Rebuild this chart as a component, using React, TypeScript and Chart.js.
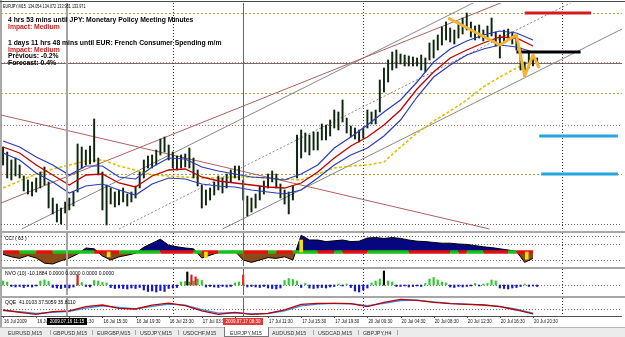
import React, { useEffect, useRef } from 'react';
import { Chart, registerables } from 'chart.js';

Chart.register(...registerables);

// ================= DATA =================
const chartTitle = 'EURJPY,M15  134.054 134.072 133.951 133.971';
const newsText = [
  '4 hrs 53 mins until JPY: Monetary Policy Meeting Minutes',
  'Impact: Medium',
  '1 days 11 hrs 48 mins until EUR: French Consumer Spending m/m',
  'Impact: Medium',
  'Previous: -0.2%',
  'Forecast: 0.4%',
];
const newsKind = ['event', 'impact', 'event', 'impact', 'info', 'info'];

// candles: one entry every candleStep bars (bar 0 = 16 Jul 03:30, M15)
const candleStep = 2;
const candleHigh = [
  133.13, 133.08, 133.0, 133.02, 132.95, 132.84, 132.8, 132.78, 132.82, 132.88,
  132.93, 132.78, 132.62, 132.56, 132.52, 132.58, 132.62, 132.68, 133.16, 133.13,
  133.1, 133.14, 133.41, 133.02, 132.88, 132.75, 132.72, 132.68, 132.7, 132.72,
  132.66, 132.68, 132.74, 132.88, 133.0, 133.04, 133.05, 133.1, 133.21, 133.23,
  133.15, 133.08, 133.04, 133.05, 133.06, 133.12, 133.02, 132.9, 132.75, 132.7,
  132.72, 132.78, 132.84, 132.82, 132.86, 132.9, 132.94, 132.94, 132.8, 132.64,
  132.62, 132.66, 132.74, 132.79, 132.86, 132.89, 132.86, 132.76, 132.7, 132.68,
  132.74, 133.25, 133.3, 133.27, 133.25, 133.28, 133.28, 133.36, 133.35, 133.4,
  133.5, 133.48, 133.6, 133.42, 133.34, 133.32, 133.3, 133.32, 133.5, 133.48,
  133.5, 133.8, 133.92, 134.0, 134.08, 134.1, 134.06, 134.05, 134.04, 134.03,
  134.02, 134.05, 134.02, 134.17, 134.2, 134.25, 134.33, 134.38, 134.32, 134.3,
  134.38, 134.42, 134.47, 134.38, 134.34, 134.35, 134.3, 134.34, 134.42, 134.28,
  134.25, 134.3, 134.31, 134.28, 134.24, 134.12, 133.98, 134.07, 134.06, 134.02,
];
const candleLow = [
  132.95, 132.82, 132.8, 132.84, 132.82, 132.69, 132.66, 132.64, 132.68, 132.72,
  132.75, 132.52, 132.46, 132.38, 132.36, 132.47, 132.5, 132.54, 132.68, 132.92,
  132.95, 132.96, 132.98, 132.85, 132.5, 132.35, 132.56, 132.53, 132.55, 132.58,
  132.54, 132.58, 132.62, 132.72, 132.82, 132.92, 132.92, 132.95, 133.05, 133.08,
  133.0, 132.92, 132.9, 132.92, 132.93, 132.92, 132.82, 132.74, 132.52, 132.55,
  132.6, 132.65, 132.7, 132.67, 132.72, 132.78, 132.82, 132.8, 132.6, 132.44,
  132.48, 132.52, 132.6, 132.66, 132.72, 132.78, 132.72, 132.62, 132.56, 132.46,
  132.6, 132.82, 133.02, 133.08, 133.05, 133.1, 133.1, 133.2, 133.2, 133.24,
  133.32, 133.3, 133.38, 133.27, 133.23, 133.21, 133.18, 133.22, 133.32, 133.36,
  133.36, 133.48, 133.68, 133.78, 133.9, 133.92, 133.96, 133.94, 133.94, 133.94,
  133.94, 133.9, 133.88, 134.0, 134.02, 134.1, 134.15, 134.2, 134.18, 134.16,
  134.22, 134.26, 134.3, 134.23, 134.2, 134.22, 134.19, 134.22, 134.24, 134.14,
  134.02, 134.18, 134.22, 134.16, 134.1, 133.9, 133.84, 133.92, 133.94, 133.96,
];

// moving averages, one value every maStep bars
const maStep = 8;
const maUpperBand = [
  133.19, 133.13, 133.03, 132.95, 132.85, 132.94, 132.94, 132.83, 132.81, 132.93, 133.02,
  133.01, 132.93, 132.89, 132.86, 132.83, 132.82, 132.8, 132.86, 132.95, 133.12, 133.23,
  133.35, 133.48, 133.6, 133.78, 133.98, 134.11, 134.19, 134.25, 134.29, 134.27, 134.2,
];
const maCenter = [
  133.13, 133.07, 132.95, 132.85, 132.75, 132.85, 132.86, 132.77, 132.73, 132.84, 132.9,
  132.91, 132.83, 132.79, 132.77, 132.75, 132.73, 132.72, 132.77, 132.88, 133.02, 133.14,
  133.23, 133.35, 133.5, 133.71, 133.88, 134.02, 134.1, 134.17, 134.23, 134.22, 134.14,
];
const maLowerBand = [
  133.07, 133.0, 132.87, 132.78, 132.67, 132.74, 132.76, 132.7, 132.65, 132.76, 132.82,
  132.81, 132.76, 132.74, 132.73, 132.7, 132.68, 132.66, 132.7, 132.82, 132.95, 133.05,
  133.12, 133.24, 133.4, 133.63, 133.83, 133.95, 134.05, 134.11, 134.15, 134.13, 134.08,
];
const maSlow = [
  132.72, 132.79, 132.86, 132.91, 132.95, 132.99, 133.0, 132.94, 132.9, 132.85, 132.84,
  132.83, 132.82, 132.82, 132.83, 132.83, 132.82, 132.81, 132.8, 132.86, 132.92, 132.94,
  132.95, 132.98, 133.13, 133.27, 133.39, 133.49, 133.6, 133.73, 133.83, 133.92, 133.99,
];

const zigzagBars = [215, 240, 248, 252, 256, 259];
const zigzagPrices = [134.42, 134.15, 134.25, 133.84, 134.05, 133.92];

const trendDownBars = [-1, 235];
const trendDownPrices = [133.45, 132.31];
const trendUpRedBars = [-1, 250];
const trendUpRedPrices = [132.57, 134.65];
const channelUpperBars = [9, 228];
const channelUpperPrices = [132.31, 134.58];
const channelLowerBars = [106, 300];
const channelLowerPrices = [132.31, 134.32];
const channelMidBars = [56, 277];
const channelMidPrices = [132.31, 134.6];

const levelRedBars = [252, 284];
const levelRedPrice = 134.47;
const levelBlackBars = [248, 279];
const levelBlackPrice = 134.08;
const levelCyanStartBars = [259, 260];
const levelCyanEndBars = [297, 297];
const levelCyanPrices = [133.24, 132.86];

const priceGridOlive = [134.47, 133.67, 132.86];
const priceGridRose = [133.35];
const priceGridGray = [132.36];
const bidPrice = 133.97;
const mainPriceMin = 132.3;
const mainPriceMax = 134.57;

const dayStartBars = [82, 174, 270];
const crosshairBar = 31;
const markerBar = 116;

const cciLabel = 'CCI ( 63 )';
const cciStep = 4;
const cciValues = [
  -30, -60, -80, -45, -75, -140, -150, -110, -75, -25, 50, 40, -50, -100, -60, -40, -15,
  60, 110, 160, 85, 65, 50, 40, -75, -40, -5, 5, 10, -100, -130, -100, -70, -80, -60,
  -100, 210, 150, 150, 130, 140, 150, 130, 135, 175, 180, 170, 180, 170, 150, 135, 130,
  120, 110, 110, 100, 95, 80, 65, 55, 40, 25, 10, -130, -80,
];
const cciState = [
  'R', 'R', 'G', 'G', 'R', 'R', 'G', 'G', 'G', 'G', 'G', 'R', 'R', 'R', 'G', 'G', 'G',
  'G', 'G', 'R', 'R', 'R', 'R', 'G', 'R', 'R', 'G', 'G', 'G', 'R', 'R', 'R', 'G', 'R',
  'R', 'G', 'G', 'G', 'R', 'R', 'G', 'R', 'R', 'R', 'G', 'G', 'G', 'G', 'G', 'R', 'R',
  'R', 'R', 'R', 'G', 'R', 'G', 'G', 'R', 'R', 'R', 'G', 'R', 'R', 'G',
];
const cciLevels = [200, 100, -100];
const cciSignalBars = [51, 98, 144, 253];
const cciSignalValues = [-60, -70, 150, -90];
const cciMin = -175;
const cciMax = 237.5;

const nvoLabel = 'NVO (10) -10.1884 0.0000 0.0000 0.0000 0.0000';
const nvoStep = 2;
const nvoValues = [
  8, 6, -3, -4, -3, -5, -3, -4, -2, 8, 10, 7, -5, -6, -7, -5, -6, -4, 4, 5,
  -3, -4, 9, 8, 5, 4, -5, -7, -6, -7, -8, -6, -7, -5, -10, -13, -12, -14, -11, -13,
  -7, -6, -5, 6, 7, 6, 8, 12, 9, -4, -3, -4, -5, -3, -4, -3, 4, 6, 3, -4,
  -3, -4, -5, -3, -6, -7, -8, -6, 9, 13, 11, 8, -5, 3, -6, -7, -6, -5, -6, -4,
  -3, 2, -2, 2, -5, -12, -14, -10, -6, 4, 8, 12, 10, 8, 6, -3, -3, -2, -4, -3,
  -2, -3, 3, 12, 15, 10, 6, 4, -4, -5, -3, -4, -3, -2, 3, -2, 2, 3, 10, 8,
  -6, -7, -8, -6, -5, -3, 2, -3, -2, -3,
];
const nvoSpikeBars = [36, 89, 91, 93, 116, 184];
const nvoSpikeValues = [20, 26, 20, 16, 20, 28];
const nvoSpikeKind = ['up', 'strong', 'up', 'up', 'up', 'strong'];
const nvoMin = -20;
const nvoMax = 32;

const qqeLabel = 'QQE  41.0103 37.5059 35.8110';
const qqeStep = 8;
const qqeFast = [
  46.7, 40.3, 34.7, 42.0, 44.0, 56.0, 60.5, 51.4, 49.5, 60.5, 66.0, 58.6, 44.0, 34.7, 40.3,
  34.7, 37.5, 46.7, 62.5, 65.3, 65.3, 64.2, 56.0, 68.0, 76.4, 73.6, 68.0, 64.2, 62.5, 60.5,
  56.0, 46.7, 36.0,
];
const qqeSlow = [
  45.0, 42.0, 37.0, 40.0, 43.0, 52.0, 58.0, 54.0, 50.0, 57.0, 63.0, 60.0, 48.0, 38.0, 39.0,
  36.0, 37.0, 44.0, 58.0, 63.0, 65.0, 64.0, 59.0, 65.0, 73.0, 74.0, 69.0, 65.0, 63.0, 61.0,
  57.0, 49.0, 38.0,
];
const qqeLevel = 50;
const qqeMin = 30;
const qqeMax = 80;

const timeTickBars = [0, 16, 32, 48, 64, 80, 96, 112, 128, 144, 160, 176, 192, 208, 224, 240, 256];
const timeTickLabels = [
  '16 Jul 2009', '16 Jul 07:30', '16 Jul 11:30', '16 Jul 15:30', '16 Jul 19:30', '16 Jul 23:30',
  '17 Jul 03:30', '17 Jul 07:30', '17 Jul 11:30', '17 Jul 15:30', '17 Jul 19:30', '20 Jul 00:30',
  '20 Jul 04:30', '20 Jul 08:30', '20 Jul 12:30', '20 Jul 16:30', '20 Jul 20:30',
];
const crosshairTimeLabel = '2009.07.16 11:15';
const markerTimeLabel = '2009.07.17 08:30';

const tabLabels = [
  'EURUSD,M15', 'GBPUSD,M15', 'EURGBP,M15', 'USDJPY,M15', 'USDCHF,M15',
  'EURJPY,M15', 'AUDUSD,M15', 'USDCAD,M15', 'GBPJPY,H4',
];
const activeTab = 'EURJPY,M15';

// ================= LAYOUT =================
const X_MIN = -1;
const X_MAX = 299;
const CANVAS_LEFT = 1;
const CANVAS_W = 621;
const FONT = '"Liberation Sans", Arial, sans-serif';
const TAB_X = [8, 53, 97, 140, 183, 230, 272, 318, 363];
const TAB_SEP_X = [50, 92, 135, 178, null, null, 313, 358, 397];
const NEWS_Y = [19.3, 26, 42.7, 49, 55.7, 62.3];

const seq = (vals: number[], step: number) => vals.map((v, i) => ({ x: i * step, y: v }));
const seg = (bars: number[], prices: number[]) => bars.map((b, i) => ({ x: b, y: prices[i] }));

const lineDs = (data: any[], color: string, width: number, extra: any = {}) => ({
  type: 'line',
  data,
  borderColor: color,
  borderWidth: width,
  pointRadius: 0,
  tension: 0,
  fill: false,
  ...extra,
});

function baseOptions(yMin: number, yMax: number, padBottom = 0): any {
  return {
    responsive: false,
    maintainAspectRatio: false,
    animation: false,
    events: [],
    devicePixelRatio: 1,
    layout: { padding: { left: 0, right: 0, top: 0, bottom: padBottom } },
    plugins: { legend: { display: false }, tooltip: { enabled: false }, title: { display: false } },
    scales: {
      x: { type: 'linear', min: X_MIN, max: X_MAX, display: false, offset: false },
      y: { type: 'linear', min: yMin, max: yMax, display: false },
    },
  };
}

type HL = { v: number; color: string; dash: number[]; width?: number; shift?: number };
function hLinesPlugin(lines: HL[]) {
  return {
    id: 'hlines',
    beforeDatasetsDraw(chart: any) {
      const { ctx, chartArea: a, scales } = chart;
      ctx.save();
      for (const l of lines) {
        const py = Math.round(scales.y.getPixelForValue(l.v)) + 0.5 + (l.shift || 0);
        ctx.beginPath();
        ctx.setLineDash(l.dash);
        ctx.strokeStyle = l.color;
        ctx.lineWidth = l.width || 1;
        ctx.moveTo(a.left, py);
        ctx.lineTo(a.right, py);
        ctx.stroke();
      }
      ctx.restore();
    },
  };
}

const vGridPlugin = {
  id: 'vgrid',
  beforeDatasetsDraw(chart: any) {
    const { ctx, chartArea: a, scales } = chart;
    ctx.save();
    ctx.strokeStyle = '#3a3a3a';
    ctx.lineWidth = 1;
    ctx.setLineDash([1, 2]);
    for (const b of dayStartBars) {
      const px = Math.round(scales.x.getPixelForValue(b)) + 0.5;
      ctx.beginPath();
      ctx.moveTo(px, a.top);
      ctx.lineTo(px, a.bottom);
      ctx.stroke();
    }
    ctx.restore();
  },
  afterDatasetsDraw(chart: any) {
    const { ctx, chartArea: a, scales } = chart;
    ctx.save();
    ctx.setLineDash([]);
    ctx.strokeStyle = '#a4a4a4';
    ctx.lineWidth = 2;
    const cx = Math.round(scales.x.getPixelForValue(crosshairBar));
    ctx.beginPath();
    ctx.moveTo(cx, a.top);
    ctx.lineTo(cx, a.bottom);
    ctx.stroke();
    ctx.strokeStyle = '#b04848';
    ctx.lineWidth = 1;
    const mx = Math.round(scales.x.getPixelForValue(markerBar)) + 0.5;
    ctx.beginPath();
    ctx.moveTo(mx, a.top);
    ctx.lineTo(mx, a.bottom);
    ctx.stroke();
    ctx.restore();
  },
};

function drawScaledText(ctx: any, text: string, x: number, y: number, sx: number, align: string) {
  ctx.save();
  ctx.translate(x, y);
  ctx.scale(sx, 1);
  ctx.textAlign = align;
  ctx.fillText(text, 0, 0);
  ctx.restore();
}

const timeAxisPlugin = {
  id: 'timeaxis',
  afterDraw(chart: any) {
    const { ctx, chartArea: a, scales } = chart;
    ctx.save();
    ctx.setLineDash([]);
    ctx.strokeStyle = '#505050';
    ctx.lineWidth = 1;
    ctx.beginPath();
    ctx.moveTo(0, a.bottom + 0.5);
    ctx.lineTo(chart.width, a.bottom + 0.5);
    ctx.stroke();
    ctx.font = `5px ${FONT}`;
    ctx.textBaseline = 'middle';
    const ty = a.bottom + 5.7;
    timeTickBars.forEach((b, i) => {
      const px = scales.x.getPixelForValue(b);
      ctx.strokeStyle = '#505050';
      ctx.beginPath();
      ctx.moveTo(Math.round(px) + 0.5, a.bottom);
      ctx.lineTo(Math.round(px) + 0.5, a.bottom + 2);
      ctx.stroke();
      ctx.fillStyle = '#111';
      drawScaledText(ctx, timeTickLabels[i], px + 1, ty, 0.88, 'left');
    });
    const boxes = [
      { bar: crosshairBar, text: crosshairTimeLabel, bg: '#000000' },
      { bar: markerBar, text: markerTimeLabel, bg: '#e23a3a' },
    ];
    for (const bx of boxes) {
      const px = Math.round(scales.x.getPixelForValue(bx.bar));
      ctx.fillStyle = bx.bg;
      ctx.fillRect(px - 20, a.bottom + 2, 40, 7);
      ctx.fillStyle = '#ffffff';
      drawScaledText(ctx, bx.text, px, ty, 0.9, 'center');
    }
    ctx.restore();
  },
};

function mainConfig(): any {
  const datasets: any[] = [
    lineDs(seg(trendDownBars, trendDownPrices), '#b06060', 1, { order: 30 }),
    lineDs(seg(trendUpRedBars, trendUpRedPrices), '#b06060', 1, { order: 30 }),
    lineDs(seg(channelUpperBars, channelUpperPrices), '#8a8a8a', 1, { order: 30 }),
    lineDs(seg(channelLowerBars, channelLowerPrices), '#8a8a8a', 1, { order: 30 }),
    lineDs(seg(channelMidBars, channelMidPrices), '#8a8a8a', 1, { order: 30, borderDash: [2, 2] }),
    lineDs(seq(maSlow, maStep), '#e0bf00', 1.6, { order: 25, borderDash: [3, 2] }),
    {
      type: 'bar',
      data: candleHigh.map((h, j) => ({ x: j * candleStep, y: [candleLow[j], h] })),
      backgroundColor: '#0e260e',
      borderWidth: 0,
      barThickness: 1.3,
      grouped: false,
      order: 20,
    },
    lineDs(seq(maLowerBand, maStep), '#2a3cb8', 1.2, { order: 15 }),
    lineDs(seq(maUpperBand, maStep), '#2a3cb8', 1.2, { order: 15 }),
    lineDs(seq(maCenter, maStep), '#c00000', 1.3, { order: 14 }),
    lineDs(seg(levelRedBars, [levelRedPrice, levelRedPrice]), '#d41c1c', 3, { order: 5 }),
    lineDs(seg(levelBlackBars, [levelBlackPrice, levelBlackPrice]), '#000000', 3, { order: 5 }),
    ...levelCyanPrices.map((p, i) =>
      lineDs(seg([levelCyanStartBars[i], levelCyanEndBars[i]], [p, p]), '#22a6dc', 3, { order: 5 })
    ),
    lineDs(seg(zigzagBars, zigzagPrices), '#f2b434', 3, { order: 2, borderJoinStyle: 'round' }),
  ];
  const lines: HL[] = [
    ...priceGridOlive.map((v) => ({ v, color: '#a8a048', dash: [2, 2] })),
    ...priceGridRose.map((v) => ({ v, color: '#b07070', dash: [1, 2] })),
    ...priceGridGray.map((v) => ({ v, color: '#606060', dash: [1, 2] })),
    { v: bidPrice, color: '#c08888', dash: [1, 2], shift: -1 },
    { v: bidPrice, color: '#7a6a6a', dash: [] },
  ];
  return {
    type: 'bar',
    data: { datasets },
    options: baseOptions(mainPriceMin, mainPriceMax),
    plugins: [hLinesPlugin(lines), vGridPlugin],
  };
}

function cciConfig(): any {
  const datasets: any[] = [
    {
      type: 'bar',
      data: cciSignalBars.map((b, i) => ({ x: b, y: [0, cciSignalValues[i]] })),
      backgroundColor: '#f2e000',
      borderWidth: 0,
      barThickness: 3,
      grouped: false,
      order: 1,
    },
    lineDs(
      cciState.map((s, k) => ({ x: k * cciStep, y: 0 })),
      '#10c010',
      3.5,
      {
        order: 3,
        borderCapStyle: 'butt',
        segment: {
          borderColor: (c: any) => (cciState[c.p0DataIndex] === 'R' ? '#e01010' : '#18c018'),
        },
      }
    ),
    lineDs(seq(cciValues, cciStep), '#000000', 1, {
      order: 5,
      fill: { target: 'origin', above: '#06067e', below: '#8b4a16' },
    }),
  ];
  const lines: HL[] = cciLevels.map((v) => ({ v, color: '#707070', dash: [1, 2] }));
  return {
    type: 'bar',
    data: { datasets },
    options: baseOptions(cciMin, cciMax),
    plugins: [hLinesPlugin(lines), vGridPlugin],
  };
}

function nvoConfig(): any {
  const datasets: any[] = [
    {
      type: 'bar',
      data: nvoSpikeBars.map((b, i) => ({ x: b, y: nvoSpikeValues[i] })),
      backgroundColor: (c: any) => (nvoSpikeKind[c.dataIndex] === 'strong' ? '#000000' : '#e01414'),
      borderWidth: 0,
      barThickness: 1.5,
      grouped: false,
      order: 1,
    },
    {
      type: 'bar',
      data: seq(nvoValues, nvoStep),
      backgroundColor: (c: any) => (c.raw && c.raw.y >= 0 ? '#2ccc2c' : '#1616c4'),
      borderWidth: 0,
      barThickness: 1.5,
      grouped: false,
      order: 2,
    },
  ];
  return {
    type: 'bar',
    data: { datasets },
    options: baseOptions(nvoMin, nvoMax),
    plugins: [hLinesPlugin([{ v: 0, color: '#707070', dash: [1, 2] }]), vGridPlugin],
  };
}

function qqeConfig(): any {
  const datasets: any[] = [
    lineDs(seq(qqeSlow, qqeStep), '#3c8cf0', 1.3, { order: 2 }),
    lineDs(seq(qqeFast, qqeStep), '#b80000', 1.3, { order: 1 }),
  ];
  return {
    type: 'line',
    data: { datasets },
    options: baseOptions(qqeMin, qqeMax, 11),
    plugins: [hLinesPlugin([{ v: qqeLevel, color: '#707070', dash: [1, 2] }]), vGridPlugin, timeAxisPlugin],
  };
}

function Label(props: { x: number; yc: number; size: number; sx?: number; bold?: boolean; color?: string; text: string }) {
  const { x, yc, size, sx = 1, bold = false, color = '#000', text } = props;
  const k = size / 20;
  return (
    <div
      style={{
        position: 'absolute',
        left: x,
        top: yc - size / 2,
        fontFamily: FONT,
        fontSize: 20,
        lineHeight: '20px',
        height: 20,
        fontWeight: bold ? 700 : 400,
        color,
        whiteSpace: 'pre',
        transformOrigin: '0 0',
        transform: `scale(${k * sx}, ${k})`,
      }}
    >
      {text}
    </div>
  );
}

export default function App() {
  const mainRef = useRef<HTMLCanvasElement>(null);
  const cciRef = useRef<HTMLCanvasElement>(null);
  const nvoRef = useRef<HTMLCanvasElement>(null);
  const qqeRef = useRef<HTMLCanvasElement>(null);

  useEffect(() => {
    const charts: Chart[] = [];
    charts.push(new Chart(mainRef.current as HTMLCanvasElement, mainConfig()));
    charts.push(new Chart(cciRef.current as HTMLCanvasElement, cciConfig()));
    charts.push(new Chart(nvoRef.current as HTMLCanvasElement, nvoConfig()));
    charts.push(new Chart(qqeRef.current as HTMLCanvasElement, qqeConfig()));
    return () => charts.forEach((c) => c.destroy());
  }, []);

  const canvasStyle = (top: number, h: number): React.CSSProperties => ({
    position: 'absolute',
    left: CANVAS_LEFT,
    top,
    width: CANVAS_W,
    height: h,
  });

  return (
    <div
      style={{
        position: 'absolute',
        left: 0,
        top: 0,
        width: 625,
        height: 337,
        background: '#ffffff',
        overflow: 'hidden',
      }}
    >
      {/* frame */}
      <div style={{ position: 'absolute', left: 0, top: 0, width: 2, height: 327, background: '#a8a8a8' }} />
      <div style={{ position: 'absolute', left: 0, top: 1, width: 625, height: 1, background: '#4a4a4a' }} />
      {/* panel separators */}
      <div style={{ position: 'absolute', left: 2, top: 231, width: 623, height: 2, background: '#a6a6a6' }} />
      <div style={{ position: 'absolute', left: 2, top: 267, width: 623, height: 2, background: '#a6a6a6' }} />
      <div style={{ position: 'absolute', left: 2, top: 296, width: 623, height: 2, background: '#a6a6a6' }} />

      <canvas ref={mainRef} width={CANVAS_W} height={227} style={canvasStyle(3, 227)} />
      <canvas ref={cciRef} width={CANVAS_W} height={33} style={canvasStyle(233, 33)} />
      <canvas ref={nvoRef} width={CANVAS_W} height={26} style={canvasStyle(269, 26)} />
      <canvas ref={qqeRef} width={CANVAS_W} height={29} style={canvasStyle(298, 29)} />

      {/* text overlays */}
      <Label x={3} yc={6} size={4.6} sx={0.82} text={chartTitle} />
      {newsText.map((t, i) => (
        <Label
          key={i}
          x={8}
          yc={NEWS_Y[i]}
          size={6.8}
          bold
          color={newsKind[i] === 'impact' ? '#c81e1e' : '#000000'}
          text={t}
        />
      ))}
      <Label x={5} yc={238} size={5} text={cciLabel} />
      <Label x={5} yc={273.5} size={5} text={nvoLabel} />
      <Label x={5} yc={302} size={5} text={qqeLabel} />

      {/* tab bar */}
      <div
        style={{
          position: 'absolute',
          left: 0,
          top: 327,
          width: 625,
          height: 10,
          background: '#ececec',
          borderTop: '1px solid #b8b8b8',
        }}
      />
      {tabLabels.map((t, i) => {
        const active = t === activeTab;
        return (
          <React.Fragment key={t}>
            {active && (
              <div
                style={{
                  position: 'absolute',
                  left: TAB_X[i] - 6,
                  top: 327,
                  width: 43,
                  height: 9,
                  background: '#ffffff',
                  border: '1px solid #7a7a7a',
                  borderTop: 'none',
                }}
              />
            )}
            <Label x={TAB_X[i]} yc={332.3} size={5.3} color="#303030" text={t} />
            {TAB_SEP_X[i] !== null && <Label x={TAB_SEP_X[i] as number} yc={332.3} size={6} color="#606060" text="|" />}
          </React.Fragment>
        );
      })}
    </div>
  );
}
